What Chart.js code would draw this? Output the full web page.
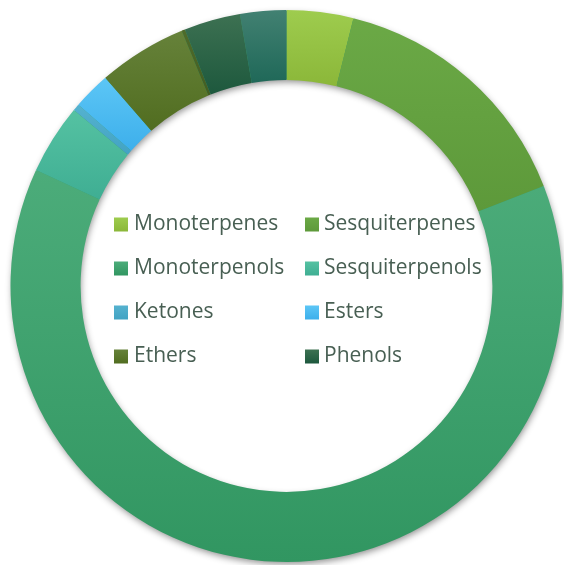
<!DOCTYPE html>
<html><head><meta charset="utf-8">
<script src="https://cdn.jsdelivr.net/npm/chart.js@4/dist/chart.umd.min.js"></script>
<style>html,body{margin:0;padding:0;background:#fff;overflow:hidden}</style>
</head><body>
<canvas id="c" width="564" height="565"></canvas>
<script>
const categories = ['Monoterpenes','Sesquiterpenes','Monoterpenols','Sesquiterpenols','Ketones','Esters','Ethers','Aldehydes','Phenols','Oxides'];
const values = [3.9, 15.2, 62.8, 4.1, 0.4, 2.2, 5.2, 0.2, 3.3, 2.7];
const legendIndices = [0, 1, 2, 3, 4, 5, 6, 8];
const topColors = ['#9ECC4E','#6BA946','#4CAC7A','#55C2A2','#55B2CF','#5CC6F6','#66823A','#4F6B2B','#3D7152','#428172'];
const bottomColors = ['#8BB739','#5D993A','#319661','#3FAE93','#42A3C3','#3DAFEB','#516D20','#435D22','#1D583D','#1F6858'];
const CUTOUT = 0.746;

function arcGradient(ctx, i, chart){
  const a = chart.chartArea;
  if(!a) return bottomColors[i];
  const data = chart.data.datasets[0].data;
  const total = data.reduce((s,v)=>s+v,0);
  let start = 0; for(let j=0;j<i;j++) start += data[j];
  const cx=(a.left+a.right)/2, cy=(a.top+a.bottom)/2;
  const R=Math.min(a.right-a.left,a.bottom-a.top)/2, r=R*CUTOUT;
  const a0=-Math.PI/2+start/total*2*Math.PI, a1=a0+data[i]/total*2*Math.PI;
  let minY=Infinity,maxY=-Infinity;
  for(let k=0;k<=40;k++){const t=a0+(a1-a0)*k/40;for(const rad of [R,r]){const y=cy+rad*Math.sin(t);minY=Math.min(minY,y);maxY=Math.max(maxY,y);}}
  if(maxY-minY<1){maxY=minY+1;}
  const g=ctx.createLinearGradient(0,minY,0,maxY);
  g.addColorStop(0,topColors[i]);g.addColorStop(1,bottomColors[i]);
  return g;
}

const ringShadow = {
  id:'ringShadow',
  beforeDatasetsDraw(chart){
    const arc = chart.getDatasetMeta(0).data[0];
    if(!arc) return;
    const {x,y,outerRadius,innerRadius} = arc.getProps(['x','y','outerRadius','innerRadius'],true);
    const c=chart.ctx; c.save();
    c.shadowColor='rgba(0,0,0,0.45)'; c.shadowBlur=7; c.shadowOffsetX=1; c.shadowOffsetY=3;
    c.beginPath(); c.arc(x,y,outerRadius-1,0,2*Math.PI); c.arc(x,y,innerRadius+1,0,2*Math.PI,true);
    c.fillStyle='#3a9a66'; c.fill(); c.restore();
  }
};

const centerLegend = {
  id:'centerLegend',
  afterDraw(chart){
    const c=chart.ctx; c.save();
    const cols=[{box:114,text:134},{box:305,text:324}];
    c.font='21px "Open Sans"'; c.textBaseline='middle'; c.textAlign='left';
    legendIndices.forEach((i,n)=>{
      const col=cols[n%2], row=Math.floor(n/2);
      const yc=224.5+row*44;
      const g=c.createLinearGradient(0,yc-7,0,yc+7);
      g.addColorStop(0,topColors[i]);g.addColorStop(1,bottomColors[i]);
      c.fillStyle=g; c.fillRect(col.box,yc-7,14,14);
      c.fillStyle='#485F53'; c.fillText(chart.data.labels[i],col.text,yc);
    });
    c.restore();
  }
};

new Chart(document.getElementById('c'),{
  type:'doughnut',
  data:{labels:categories,datasets:[{data:values,
    backgroundColor:(ctx)=>arcGradient(ctx.chart.ctx,ctx.dataIndex,ctx.chart),
    borderWidth:0,hoverOffset:0}]},
  options:{responsive:false,animation:false,cutout:(CUTOUT*100)+'%',
    layout:{padding:{left:10.5,right:1.5,top:10,bottom:3}},
    plugins:{legend:{display:false},tooltip:{enabled:false}}},
  plugins:[ringShadow,centerLegend]
});
</script>
</body></html>
